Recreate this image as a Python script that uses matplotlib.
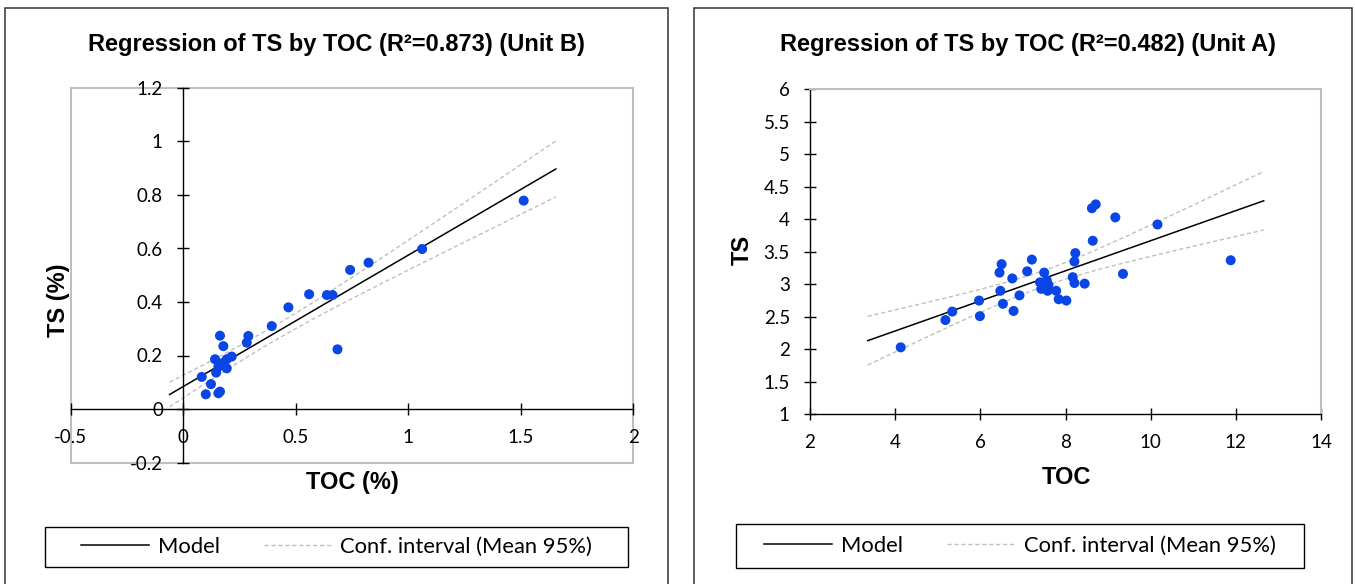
import matplotlib
matplotlib.use("Agg")
import matplotlib.pyplot as plt
from matplotlib.lines import Line2D
from matplotlib.patches import Rectangle
import numpy as np

# Unit B (left panel)
toc_b = [0.468, 0.394, 0.164, 0.290, 0.283, 0.179, 0.686, 0.142, 0.216, 0.194,
         0.179, 0.157, 0.194, 0.147, 0.083, 0.124, 0.164, 0.157, 0.101,
         1.513, 1.062, 0.824, 0.742, 0.560, 0.639, 0.664]
ts_b = [0.380, 0.310, 0.274, 0.273, 0.248, 0.235, 0.223, 0.186, 0.196, 0.186,
        0.173, 0.158, 0.152, 0.136, 0.120, 0.093, 0.065, 0.059, 0.055,
        0.779, 0.598, 0.547, 0.520, 0.429, 0.426, 0.426]

# Unit A (right panel)
toc_a = [4.13, 5.18, 5.34, 5.97, 5.99, 6.45, 6.50, 6.75, 6.47, 6.53,
         6.78, 6.92, 7.10, 7.21, 7.50, 7.40, 7.56, 7.60, 7.43, 7.58,
         7.78, 7.84, 8.02, 8.17, 8.21, 8.45, 8.21, 8.23, 8.64, 8.62,
         8.71, 9.17, 9.35, 10.16, 11.88]
ts_a = [2.03, 2.45, 2.58, 2.75, 2.51, 3.18, 3.31, 3.09, 2.90, 2.70,
        2.59, 2.83, 3.20, 3.38, 3.18, 3.03, 3.06, 2.99, 2.93, 2.90,
        2.90, 2.77, 2.75, 3.11, 3.02, 3.01, 3.35, 3.48, 3.67, 4.17,
        4.23, 4.03, 3.16, 3.92, 3.37]

titles = ["Regression of TS by TOC (R\u00b2=0.873) (Unit B)",
          "Regression of TS by TOC (R\u00b2=0.482) (Unit A)"]
t_crit = [2.064, 2.035]  # Student t, 95 %, df = n-2

W, H = 1355, 584
BLUE = "#0a46e6"
GRAY = "#bfbfbf"
TICK_FONT = "Lato"
BOLD_FONT = "Liberation Sans"


def fx(px):
    return px / W


def fy(py):
    return 1 - py / H


def fit_and_band(ax, x, y, t):
    x = np.asarray(x)
    y = np.asarray(y)
    n = len(x)
    slope, icpt = np.polyfit(x, y, 1)
    resid = y - (slope * x + icpt)
    s = np.sqrt(np.sum(resid ** 2) / (n - 2))
    xbar = x.mean()
    sxx = np.sum((x - xbar) ** 2)
    span = x.max() - x.min()
    xs = np.linspace(x.min() - 0.1 * span, x.max() + 0.1 * span, 200)
    yh = slope * xs + icpt
    half = t * s * np.sqrt(1 / n + (xs - xbar) ** 2 / sxx)
    ax.plot(xs, yh, color="black", lw=1.1, zorder=3)
    ax.plot(xs, yh + half, color=GRAY, lw=1.0, ls=(0, (3, 2)), zorder=2)
    ax.plot(xs, yh - half, color=GRAY, lw=1.0, ls=(0, (3, 2)), zorder=2)
    ax.scatter(x, y, s=52, color=BLUE, edgecolors="none", zorder=4)


def style_ticks(ax):
    ax.tick_params(direction="inout", length=9, width=1.0, color="black",
                   labelsize=13.5)
    ax.tick_params(axis="x", pad=10)
    ax.tick_params(axis="y", pad=10)
    for lab in ax.get_xticklabels() + ax.get_yticklabels():
        lab.set_fontfamily(TICK_FONT)


fig = plt.figure(figsize=(W / 100, H / 100), dpi=100)

# panel frames
for x0, x1 in [(5, 668), (694, 1352)]:
    fig.add_artist(Rectangle((fx(x0), -0.05), fx(x1) - fx(x0), fy(8) + 0.05,
                             transform=fig.transFigure, fill=False,
                             edgecolor="#333333", lw=1.1))

# left panel
axL = fig.add_axes([fx(70.5), fy(462.5), fx(633.3) - fx(70.5), fy(88) - fy(462.5)])
axL.set_xlim(-0.5, 2)
axL.set_ylim(-0.2, 1.2)
axL.set_xticks(np.arange(-0.5, 2.01, 0.5))
axL.set_yticks(np.arange(-0.2, 1.21, 0.2))
axL.set_xticklabels(["-0.5", "0", "0.5", "1", "1.5", "2"])
axL.set_yticklabels(["-0.2", "0", "0.2", "0.4", "0.6", "0.8", "1", "1.2"])
for side in ["top", "right"]:
    axL.spines[side].set_visible(False)
for side in ["left", "bottom"]:
    axL.spines[side].set_position(("data", 0))
    axL.spines[side].set_linewidth(1.0)
axL.add_patch(Rectangle((0, 0), 1, 1, transform=axL.transAxes, fill=False,
                        edgecolor=GRAY, lw=1.5, clip_on=False, zorder=0))
fit_and_band(axL, toc_b, ts_b, t_crit[0])
style_ticks(axL)

# right panel
axR = fig.add_axes([fx(810), fy(414.3), fx(1321) - fx(810), fy(89.3) - fy(414.3)])
axR.set_xlim(2, 14)
axR.set_ylim(1, 6)
axR.set_xticks(np.arange(2, 14.1, 2))
axR.set_yticks(np.arange(1, 6.01, 0.5))
axR.set_yticklabels(["1", "1.5", "2", "2.5", "3", "3.5", "4", "4.5", "5", "5.5", "6"])
for side in ["top", "right"]:
    axR.spines[side].set_color(GRAY)
    axR.spines[side].set_linewidth(1.5)
for side in ["left", "bottom"]:
    axR.spines[side].set_linewidth(1.0)
fit_and_band(axR, toc_a, ts_a, t_crit[1])
style_ticks(axR)

# titles and axis labels
fig.text(fx(336.5), fy(45), titles[0], ha="center", va="center",
         fontsize=17, fontweight="bold", family=BOLD_FONT)
fig.text(fx(1028), fy(45), titles[1], ha="center", va="center",
         fontsize=17, fontweight="bold", family=BOLD_FONT)
fig.text(fx(352), fy(483), "TOC (%)", ha="center", va="center",
         fontsize=17, fontweight="bold", family=BOLD_FONT)
fig.text(fx(58), fy(300), "TS (%)", ha="center", va="center", rotation=90,
         fontsize=17, fontweight="bold", family=BOLD_FONT)
fig.text(fx(1066), fy(478), "TOC", ha="center", va="center",
         fontsize=17, fontweight="bold", family=BOLD_FONT)
fig.text(fx(742), fy(250), "TS", ha="center", va="center", rotation=90,
         fontsize=17, fontweight="bold", family=BOLD_FONT)

# legends
handles = [Line2D([], [], color="black", lw=1.1),
           Line2D([], [], color=GRAY, lw=1.0, ls=(0, (3, 2)))]
labels = ["Model", "Conf. interval (Mean 95%)"]
for x0, x1, y0, y1 in [(45, 628, 527, 567), (736, 1304, 524, 568)]:
    fig.add_artist(Rectangle((fx(x0), fy(y1)), fx(x1) - fx(x0), fy(y0) - fy(y1),
                             transform=fig.transFigure, fill=False,
                             edgecolor="black", lw=1.0))
    fig.legend(handles, labels, loc="center", ncol=2, frameon=False,
               bbox_to_anchor=(fx((x0 + x1) / 2), fy((y0 + y1) / 2)),
               prop={"family": TICK_FONT, "size": 15.8}, handlelength=3.1,
               handletextpad=0.4, columnspacing=2.0)

fig.savefig("out.png", dpi=100)
